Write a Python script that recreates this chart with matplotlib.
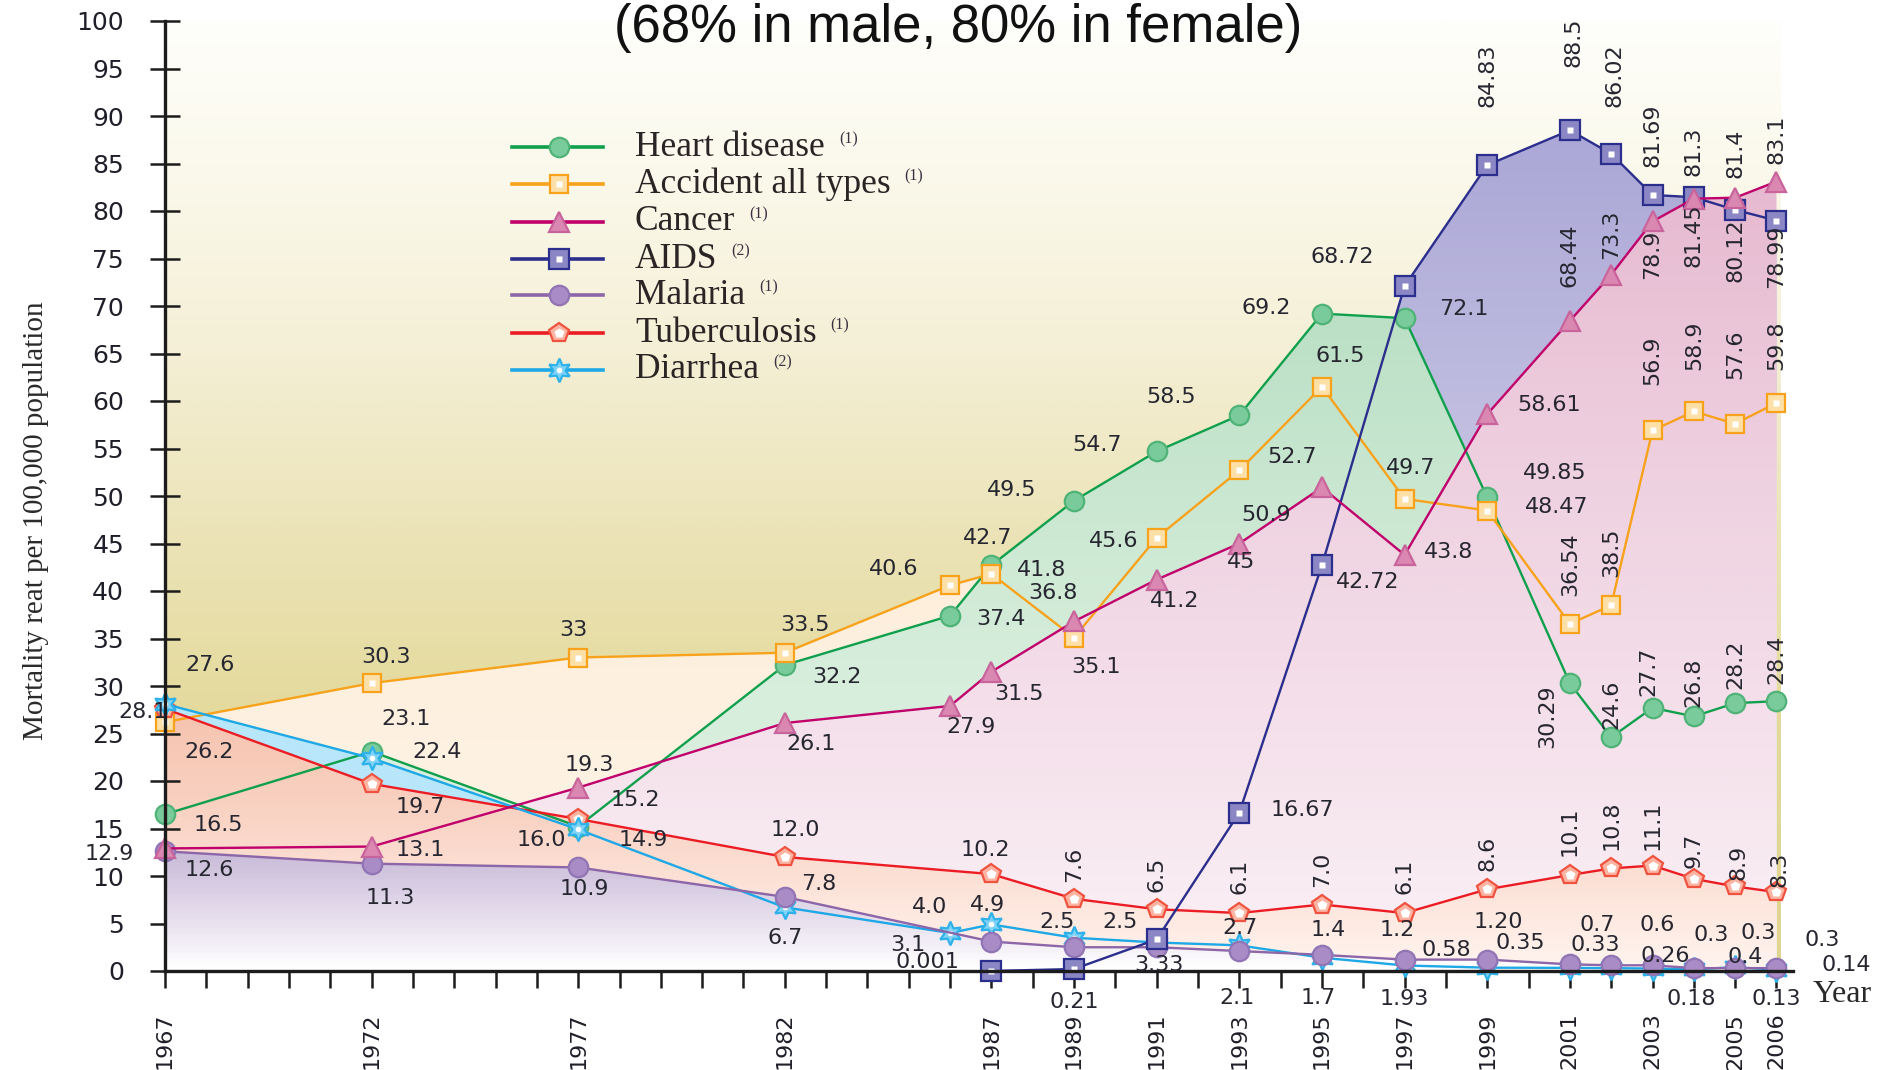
import numpy as np
import matplotlib
matplotlib.use("Agg")
import matplotlib.pyplot as plt
from matplotlib.patches import Polygon
from matplotlib.colors import LinearSegmentedColormap
from matplotlib.lines import Line2D

plt.rcParams["font.family"] = ["DejaVu Sans"]

# ---------------------------------------------------------------- data
years_main = [1967, 1972, 1977, 1982, 1986, 1987, 1989, 1991, 1993, 1995,
              1997, 1999, 2001, 2002, 2003, 2004, 2005, 2006]
heart_txt = ["16.5", "23.1", "15.2", "32.2", "37.4", "42.7", "49.5", "54.7", "58.5",
             "69.2", "68.72", "49.85", "30.29", "24.6", "27.7", "26.8", "28.2", "28.4"]
accident_txt = ["26.2", "30.3", "33", "33.5", "40.6", "41.8", "35.1", "45.6", "52.7",
                "61.5", "49.7", "48.47", "36.54", "38.5", "56.9", "58.9", "57.6", "59.8"]
cancer_txt = ["12.9", "13.1", "19.3", "26.1", "27.9", "31.5", "36.8", "41.2", "45",
              "50.9", "43.8", "58.61", "68.44", "73.3", "78.9", "81.3", "81.4", "83.1"]

aids_years = [1987, 1989, 1991, 1993, 1995, 1997, 1999, 2001, 2002, 2003, 2004, 2005, 2006]
aids_txt = ["0.001", "0.21", "3.33", "16.67", "42.72", "72.1", "84.83", "88.5", "86.02",
            "81.69", "81.45", "80.12", "78.99"]

malaria_years = [1967, 1972, 1977, 1982, 1987, 1989, 1991, 1993, 1995, 1997, 1999,
                 2001, 2002, 2003, 2004, 2005, 2006]
malaria_txt = ["12.6", "11.3", "10.9", "7.8", "3.1", "2.5", "2.5", "2.1", "1.7", "1.2",
               "1.20", "0.7", "0.6", "0.6", "0.3", "0.3", "0.3"]

tb_years = [1967, 1972, 1977, 1982, 1987, 1989, 1991, 1993, 1995, 1997, 1999,
            2001, 2002, 2003, 2004, 2005, 2006]
tb_txt = ["27.6", "19.7", "16.0", "12.0", "10.2", "7.6", "6.5", "6.1", "7.0", "6.1",
          "8.6", "10.1", "10.8", "11.1", "9.7", "8.9", "8.3"]

diarrhea_years = [1967, 1972, 1977, 1982, 1986, 1987, 1989, 1991, 1993, 1995, 1997,
                  1999, 2001, 2002, 2003, 2004, 2005, 2006]
diarrhea_txt = ["28.1", "22.4", "14.9", "6.7", "4.0", "4.9", "3.5", "3.0", "2.7", "1.4",
                "0.58", "0.35", "0.33", "0.3", "0.26", "0.18", "0.4", "0.14"]

axis_notes = [("1.93", 1997), ("0.13", 2006)]

labeled_years = [1967, 1972, 1977, 1982, 1987, 1989, 1991, 1993, 1995, 1997,
                 1999, 2001, 2003, 2005, 2006]
yticks = list(range(0, 101, 5))

legend_names = ["Heart disease", "Accident all types", "Cancer", "AIDS",
                "Malaria", "Tuberculosis", "Diarrhea"]
legend_notes = ["(1)", "(1)", "(1)", "(2)", "(1)", "(1)", "(2)"]

title = "(68% in male, 80% in female)"
ylabel = "Mortality reat per 100,000 population"

# ---------------------------------------------------------------- label offsets (pixels: dx, dy[, rotation])
heart_lbl = {1967: (53, -11), 1972: (34, 33), 1977: (57, 27), 1982: (52, -12),
             1986: (51, -3), 1987: (-4, 27), 1989: (-62, 11), 1991: (-60, 6),
             1993: (-68, 18), 1995: (-56, 6), 1997: (-62, 61), 1999: (68, 24),
             2001: (-23, -33, 90), 2002: (0, 33, 90), 2003: (-4, 37, 90),
             2004: (0, 34, 90), 2005: (0, 39, 90), 2006: (0, 42, 90)}
accident_lbl = {1967: (44, -30), 1972: (14, 26), 1977: (-5, 28), 1982: (20, 28),
                1986: (-56, 16), 1987: (50, 4), 1989: (22, -29), 1991: (-43, -3),
                1993: (53, 13), 1995: (18, 31), 1997: (6, 31), 1999: (69, 4),
                2001: (0, 60, 90), 2002: (0, 53, 90), 2003: (0, 70, 90),
                2004: (0, 66, 90), 2005: (0, 70, 90), 2006: (0, 58, 90)}
cancer_lbl = {1967: (-56, -6), 1972: (49, -3), 1977: (11, 23), 1982: (26, -21),
              1986: (21, -21), 1987: (28, -22), 1989: (-21, 28), 1991: (18, -21),
              1993: (2, -18), 1995: (-56, -28), 1997: (44, 3), 1999: (62, 9),
              2001: (0, 66, 90), 2002: (0, 40, 90), 2003: (0, -33, 90),
              2004: (0, 47, 90), 2005: (0, 44, 90), 2006: (0, 42, 90)}
aids_lbl = {1987: (-64, 9), 1989: (0, -33), 1991: (2, -26), 1993: (63, 3),
            1995: (46, -17), 1997: (59, -23), 1999: (0, 90, 90), 2001: (4, 88, 90),
            2002: (3, 79, 90), 2003: (0, 60, 90), 2004: (0, -38, 90),
            2005: (0, -40, 90), 2006: (0, -36, 90)}
malaria_lbl = {1967: (44, -19), 1972: (19, -34), 1977: (6, -22), 1982: (34, 13),
               1987: (-84, -3), 1989: (-17, 25), 1991: (-37, 25), 1993: (-2, -47),
               1995: (-4, -43), 1997: (-7, 30), 1999: (11, 38), 2001: (27, 39),
               2003: (5, 40), 2004: (17, 33), 2005: (23, 35), 2006: (46, 28)}
tb_lbl = {1967: (45, 44), 1972: (49, -23), 1977: (-37, -21), 1982: (11, 27),
          1987: (-6, 24), 1989: (0, 34, 90), 1991: (0, 35, 90), 1993: (0, 37, 90),
          1995: (0, 35, 90), 1997: (0, 37, 90), 1999: (0, 36, 90), 2001: (0, 44, 90),
          2002: (0, 43, 90), 2003: (0, 40, 90), 2004: (0, 28, 90), 2005: (3, 24, 90),
          2006: (3, 23, 90)}
diarrhea_lbl = {1967: (-22, -8), 1972: (65, 6), 1977: (65, -11), 1982: (0, -31),
                1986: (-20, 26), 1987: (-4, 19), 1993: (1, 17), 1995: (6, 28),
                1997: (42, 15), 1999: (33, 25), 2001: (25, 23), 2003: (13, 13),
                2004: (-3, -30), 2005: (10, 10), 2006: (70, 5)}
note_offsets = [(0, -28), (0, -28)]

# ---------------------------------------------------------------- figure
W, H = 1903, 1070
fig = plt.figure(figsize=(W / 100, H / 100), dpi=100)
ax = fig.add_axes([165 / W, 99 / H, (1793 - 165) / W, 950 / H])
X0, X1, XFILL = 1967, 2006.4, 2006.1
LBL_SIZE = 16


def vals(txt):
    return [float(v) for v in txt]


def gradient_area(xs, ys, stops, z):
    verts = [(xs[0], 0)] + list(zip(xs, ys)) + [(xs[-1], 0)]
    poly = Polygon(verts, closed=True, fc="none", ec="none")
    ax.add_patch(poly)
    cmap = LinearSegmentedColormap.from_list("", [(p / 100, c) for p, c in stops])
    im = ax.imshow(np.linspace(0, 1, 400).reshape(-1, 1), extent=(X0, XFILL, 0, 100),
                   origin="lower", aspect="auto", cmap=cmap, zorder=z,
                   interpolation="bilinear")
    im.set_clip_path(poly)


# background wash
bg_cmap = LinearSegmentedColormap.from_list("", [
    (0.0, "#e0d590"), (0.25, "#e3d99a"), (0.45, "#ebe3b6"),
    (0.65, "#f4efd5"), (0.85, "#fbf9ec"), (1.0, "#fefefb")])
ax.imshow(np.linspace(0, 1, 400).reshape(-1, 1), extent=(X0, XFILL, 0, 100),
          origin="lower", aspect="auto", cmap=bg_cmap, zorder=0.5,
          interpolation="bilinear")

heart = vals(heart_txt)
accident = vals(accident_txt)
cancer = vals(cancer_txt)
aids = vals(aids_txt)
malaria = vals(malaria_txt)
tb = vals(tb_txt)
diarrhea = vals(diarrhea_txt)

gradient_area(aids_years, aids, [(0, "#d0cde8"), (50, "#c6c3e3"), (90, "#aaa6d6"), (100, "#a6a2d3")], 1.0)
gradient_area(years_main, accident, [(0, "#fef4e8"), (40, "#fdefdc"), (100, "#fce6c8")], 1.1)
gradient_area(years_main, heart, [(0, "#e2f2e5"), (30, "#d7eedc"), (50, "#cae7d1"), (75, "#b6dec2"), (100, "#a9d8b7")], 1.2)
gradient_area(years_main, cancer, [(0, "#fbf2f7"), (20, "#f6e4ed"), (50, "#efd2e1"), (85, "#e6b8cf"), (100, "#e1acc7")], 1.3)
gradient_area(diarrhea_years, diarrhea, [(0, "#b8e6fa"), (100, "#b8e6fa")], 1.4)
gradient_area(tb_years, tb, [(0, "#fff4ef"), (8, "#fde4da"), (16, "#f9d3c4"), (28, "#f6c2ad"), (100, "#f2b49c")], 1.5)
gradient_area(malaria_years, malaria, [(0, "#ffffff"), (5, "#e8e0ee"), (13, "#c5b7d6"), (100, "#b8a8cc")], 1.6)

# ---------------------------------------------------------------- series
series = [
    dict(x=years_main, y=heart, txt=heart_txt, lbl=heart_lbl, color="#10a04d",
         marker="o", ms=14, mfc="#7acb9b", mec="#4fb377", inner=None, z=3.0),
    dict(x=years_main, y=accident, txt=accident_txt, lbl=accident_lbl, color="#f8a21c",
         marker="s", ms=13, mfc="#fde0a8", mec="#f8a21c", inner=("s", 5), z=3.1),
    dict(x=tb_years, y=tb, txt=tb_txt, lbl=tb_lbl, color="#ec1c24",
         marker="p", ms=15, mfc="#fbb3a2", mec="#f05240", inner=("p", 7), z=3.2),
    dict(x=diarrhea_years, y=diarrhea, txt=diarrhea_txt, lbl=diarrhea_lbl, color="#1ea8e6",
         marker=(6, 1, 0), ms=17, mfc="#7fd3f7", mec="#2fb1ea", inner=("o", 4), z=3.3),
    dict(x=malaria_years, y=malaria, txt=malaria_txt, lbl=malaria_lbl, color="#8c66a8",
         marker="o", ms=14, mfc="#a98bc6", mec="#9074b4", inner=None, z=3.4),
    dict(x=aids_years, y=aids, txt=aids_txt, lbl=aids_lbl, color="#2b2e8c",
         marker="s", ms=14, mfc="#8b87c5", mec="#2b2e8c", inner=("s", 5), z=3.5),
    dict(x=years_main, y=cancer, txt=cancer_txt, lbl=cancer_lbl, color="#c0006b",
         marker="^", ms=15, mfc="#da88b2", mec="#c8649b", inner=None, z=3.6),
]

for s in series:
    ax.plot(s["x"], s["y"], color=s["color"], lw=1.7, marker=s["marker"], ms=s["ms"],
            mfc=s["mfc"], mec=s["mec"], mew=1.6, clip_on=False, zorder=s["z"])
    if s["inner"]:
        ax.plot(s["x"], s["y"], ls="none", marker=s["inner"][0], ms=s["inner"][1],
                color="white", mec="none", clip_on=False, zorder=s["z"] + 0.01)
    for yr, v, t in zip(s["x"], s["y"], s["txt"]):
        if yr not in s["lbl"]:
            continue
        off = s["lbl"][yr]
        rot = off[2] if len(off) > 2 else 0
        ax.annotate(t, xy=(yr, v), xytext=(off[0], off[1]), textcoords="offset pixels",
                    ha="center", va="center", rotation=rot, fontsize=LBL_SIZE,
                    color="#262630", zorder=6, annotation_clip=False)

for (t, yr), off in zip(axis_notes, note_offsets):
    ax.annotate(t, xy=(yr, 0), xytext=off, textcoords="offset pixels", ha="center",
                va="center", fontsize=LBL_SIZE, color="#262630", zorder=6,
                annotation_clip=False)

# ---------------------------------------------------------------- axes
ax.set_xlim(X0, X1)
ax.set_ylim(0, 100)
for side in ("top", "right"):
    ax.spines[side].set_visible(False)
for side in ("left", "bottom"):
    ax.spines[side].set_linewidth(2.4)
    ax.spines[side].set_color("#1c1c1c")
    ax.spines[side].set_zorder(5)

all_years = list(range(1967, 2007))
ax.set_xticks(all_years)
ax.set_xticklabels([str(y) if y in labeled_years else "" for y in all_years],
                   rotation=90, fontsize=16, color="#1f1f2a")
ax.tick_params(axis="x", direction="out", length=12, width=1.8, pad=18, color="#1c1c1c")
ax.set_yticks(yticks)
ax.set_yticklabels([str(v) for v in yticks], fontsize=18, color="#1f1f2a")
ax.tick_params(axis="y", direction="inout", length=21, width=1.8, pad=19, color="#1c1c1c")

# ---------------------------------------------------------------- text
serif = ["Liberation Serif", "DejaVu Serif"]
fig.text(958 / W, 1 - 28 / H, title, ha="center", va="center", fontsize=38,
         family=["Liberation Sans", "DejaVu Sans"], color="#111111")
fig.text(36 / W, 1 - 521 / H, ylabel, rotation=90, ha="center", va="center",
         fontsize=21, family=serif, color="#2a2a2a")
fig.text(1813 / W, 1 - 995 / H, "Year", ha="left", va="center", fontsize=23,
         family=serif, color="#2a2a2a")

# ---------------------------------------------------------------- legend
renderer = fig.canvas.get_renderer()
row_y = [147, 184, 222, 259, 295, 333, 370]
legend_series = [0, 1, 6, 5, 4, 2, 3]
for name, note, yy, idx in zip(legend_names, legend_notes, row_y, legend_series):
    s = series[idx]
    fy = 1 - yy / H
    fig.add_artist(Line2D([512 / W, 603 / W], [fy, fy], color=s["color"], lw=2.6))
    fig.add_artist(Line2D([559 / W], [fy], ls="none", marker=s["marker"], ms=s["ms"],
                          mfc=s["mfc"], mec=s["mec"], mew=1.6))
    if s["inner"]:
        fig.add_artist(Line2D([559 / W], [fy], ls="none", marker=s["inner"][0],
                              ms=s["inner"][1], color="white", mec="none"))
    t = fig.text(635 / W, fy, name, ha="left", va="center", fontsize=25.5,
                 family=serif, color="#2a2424")
    bb = t.get_window_extent(renderer)
    fig.text((bb.x1 + 14) / W, fy + 8 / H, note, ha="left", va="center", fontsize=11.5,
             family=serif, color="#3a3040")

fig.savefig("out.png", dpi=100)
